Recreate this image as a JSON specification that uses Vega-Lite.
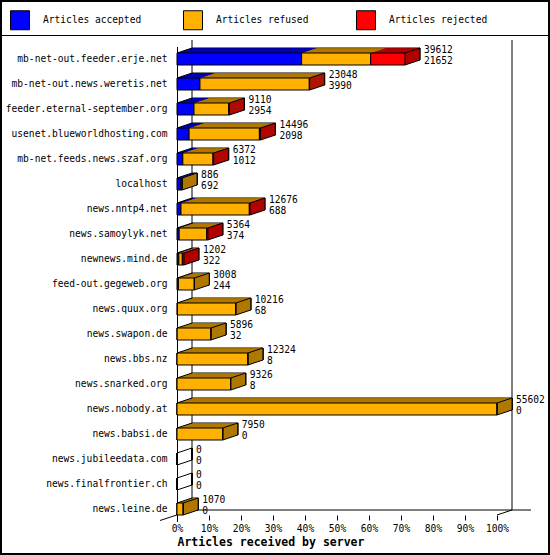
{
  "$schema": "https://vega.github.io/schema/vega-lite/v6.json",
  "width": 550,
  "height": 555,
  "autosize": "none",
  "padding": 0,
  "background": "white",
  "config": {
    "font": "DejaVu Sans Mono",
    "view": {"stroke": "black", "strokeWidth": 4},
    "axis": {
      "labelFont": "DejaVu Sans Mono",
      "labelFontSize": 9.6,
      "labelColor": "black",
      "grid": false,
      "titleFont": "DejaVu Sans Mono",
      "titleColor": "black"
    },
    "legend": {
      "symbolType": "square",
      "symbolSize": 361,
      "symbolStrokeColor": "black",
      "symbolStrokeWidth": 1,
      "labelFont": "DejaVu Sans Mono",
      "labelFontSize": 9.6,
      "labelColor": "black",
      "labelOffset": 13,
      "columnPadding": 39,
      "gridAlign": "all",
      "labelLimit": 300
    }
  },
  "data": {
    "values": [
      {"server": "mb-net-out.feeder.erje.net", "total": 39612, "accepted": 21652, "refused": 12000, "rejected": 5960},
      {"server": "mb-net-out.news.weretis.net", "total": 23048, "accepted": 3990, "refused": 18998, "rejected": 60},
      {"server": "feeder.eternal-september.org", "total": 9110, "accepted": 2954, "refused": 6036, "rejected": 120},
      {"server": "usenet.blueworldhosting.com", "total": 14496, "accepted": 2098, "refused": 12218, "rejected": 180},
      {"server": "mb-net.feeds.news.szaf.org", "total": 6372, "accepted": 1012, "refused": 5240, "rejected": 120},
      {"server": "localhost", "total": 886, "accepted": 692, "refused": 194, "rejected": 0},
      {"server": "news.nntp4.net", "total": 12676, "accepted": 688, "refused": 11878, "rejected": 110},
      {"server": "news.samoylyk.net", "total": 5364, "accepted": 374, "refused": 4790, "rejected": 200},
      {"server": "newnews.mind.de", "total": 1202, "accepted": 322, "refused": 600, "rejected": 280},
      {"server": "feed-out.gegeweb.org", "total": 3008, "accepted": 244, "refused": 2764, "rejected": 0},
      {"server": "news.quux.org", "total": 10216, "accepted": 68, "refused": 10148, "rejected": 0},
      {"server": "news.swapon.de", "total": 5896, "accepted": 32, "refused": 5864, "rejected": 0},
      {"server": "news.bbs.nz", "total": 12324, "accepted": 8, "refused": 12316, "rejected": 0},
      {"server": "news.snarked.org", "total": 9326, "accepted": 8, "refused": 9318, "rejected": 0},
      {"server": "news.nobody.at", "total": 55602, "accepted": 0, "refused": 55602, "rejected": 0},
      {"server": "news.babsi.de", "total": 7950, "accepted": 0, "refused": 7950, "rejected": 0},
      {"server": "news.jubileedata.com", "total": 0, "accepted": 0, "refused": 0, "rejected": 0},
      {"server": "news.finalfrontier.ch", "total": 0, "accepted": 0, "refused": 0, "rejected": 0},
      {"server": "news.leine.de", "total": 1070, "accepted": 0, "refused": 1070, "rejected": 0}
    ]
  },
  "transform": [
    {"fold": ["accepted", "refused", "rejected"]},
    {"calculate": "datum.key", "as": "shade"},
    {"calculate": "datum.rejected > 0 ? 'rejected' : datum.refused > 0 ? 'refused' : 'accepted'", "as": "last"}
  ],
  "encoding": {
    "y": {
      "field": "server",
      "type": "nominal",
      "sort": null,
      "scale": {"range": [46.5, 521.5], "paddingInner": 0, "paddingOuter": 0},
      "axis": {"title": null, "offset": -177, "ticks": false, "labelPadding": 10, "domainColor": "black", "labelLimit": 200}
    }
  },
  "layer": [
    {
      "transform": [{"filter": "datum.key == 'accepted'"}],
      "mark": {"type": "rule", "color": "black", "xOffset": 15, "x2Offset": 15, "yOffset": -19, "y2Offset": 1},
      "encoding": {"x": {"datum": 0, "type": "quantitative"}, "x2": {"datum": 0}, "y2": {"field": "server"}}
    },
    {
      "transform": [{"filter": "datum.key == 'accepted' && datum.server != 'news.leine.de'"}],
      "mark": {"type": "rule", "color": "black", "xOffset": 15, "x2Offset": 15, "yOffset": 1, "y2Offset": 6},
      "encoding": {"x": {"datum": 0, "type": "quantitative"}, "x2": {"datum": 0}, "y2": {"field": "server"}}
    },
    {
      "transform": [{"filter": "datum.key == 'accepted'"}],
      "mark": {"type": "rule", "color": "black", "xOffset": 15, "x2Offset": 15, "yOffset": -19, "y2Offset": 1},
      "encoding": {"x": {"datum": 55602, "type": "quantitative"}, "x2": {"datum": 55602}, "y2": {"field": "server"}}
    },
    {
      "transform": [{"filter": "datum.key == 'accepted' && datum.server != 'news.leine.de'"}],
      "mark": {"type": "rule", "color": "black", "xOffset": 15, "x2Offset": 15, "yOffset": 1, "y2Offset": 6},
      "encoding": {"x": {"datum": 55602, "type": "quantitative"}, "x2": {"datum": 55602}, "y2": {"field": "server"}}
    },
    {
      "transform": [{"filter": "datum.key == 'accepted' && datum.server == 'news.leine.de'"}],
      "mark": {"type": "rule", "color": "black", "xOffset": 15, "x2Offset": 15, "yOffset": 1, "y2Offset": 1},
      "encoding": {"x": {"datum": 0, "type": "quantitative"}, "x2": {"datum": 58900}, "y2": {"field": "server"}}
    },
    {
      "transform": [{"filter": "datum.key == 'accepted' && datum.server == 'news.leine.de'"}],
      "mark": {"type": "rule", "color": "black", "xOffset": -17, "x2Offset": 15, "yOffset": 11.5, "y2Offset": 1},
      "encoding": {"x": {"datum": 0, "type": "quantitative"}, "x2": {"datum": 0}, "y2": {"field": "server"}}
    },
    {
      "transform": [{"filter": "datum.key == 'accepted' && datum.server == 'news.leine.de'"}],
      "mark": {"type": "rule", "color": "black", "x2Offset": 15, "yOffset": 6, "y2Offset": 1},
      "encoding": {"x": {"datum": 55602, "type": "quantitative"}, "x2": {"datum": 55602}, "y2": {"field": "server"}}
    },
    {
      "transform": [{"filter": "datum.key == 'accepted' && datum.server == 'mb-net-out.feeder.erje.net'"}],
      "mark": {"type": "rule", "color": "black", "xOffset": -177, "x2Offset": 53, "yOffset": -23.5, "y2Offset": -23.5},
      "encoding": {"x": {"datum": 0, "type": "quantitative"}, "x2": {"datum": 55602}, "y2": {"field": "server"}}
    },
    {
      "transform": [{"filter": "datum.key == 'accepted'"}],
      "mark": {"type": "rule", "color": "black", "x2Offset": 15, "yOffset": 6, "y2Offset": 1},
      "encoding": {"x": {"datum": 0, "type": "quantitative"}, "x2": {"datum": 0}, "y2": {"field": "server"}}
    },
    {
      "encoding": {
        "x": {
          "field": "value",
          "type": "quantitative",
          "stack": "zero",
          "scale": {"domain": [0, 55602], "range": [177, 497], "nice": false, "zero": true},
          "axis": {
            "title": "Articles received by server",
            "offset": -40,
            "domain": false,
            "tickSize": 5,
            "tickColor": "black",
            "labelPadding": 3,
            "labelFlush": false,
            "labelOverlap": false,
            "values": [0, 5560.2, 11120.4, 16680.6, 22240.8, 27801, 33361.2, 38921.4, 44481.6, 50041.8, 55602],
            "labelExpr": "format(datum.value / 55602, '.0%')",
            "titleFontWeight": "bold",
            "titleFontSize": 11.5,
            "titleAnchor": "start",
            "titlePadding": 4
          }
        }
      },
      "layer": [
        {"mark": {"type": "bar", "height": 12, "xOffset": 15, "x2Offset": 15, "yOffset": -5, "stroke": "black", "strokeWidth": 1},
         "encoding": {"fill": {"field": "shade", "type": "nominal", "legend": null, "scale": {"domain": ["rejected", "refused", "accepted"], "range": ["#b00000", "#b07800", "#0000b0"]}}}},
        {"transform": [{"filter": "datum.key == 'accepted' && datum.total > 0"}],
         "mark": {"type": "bar", "height": 12, "xOffset": 14, "x2Offset": 15, "yOffset": -5},
         "encoding": {"x": {"field": "total", "type": "quantitative", "stack": null}, "x2": {"field": "total"}, "fill": {"field": "last", "type": "nominal", "legend": null}}},
        {"mark": {"type": "bar", "height": 12, "xOffset": 14, "x2Offset": 14, "yOffset": -4.667},
         "encoding": {"fill": {"field": "shade", "type": "nominal", "legend": null}}},
        {"transform": [{"filter": "datum.key == 'accepted' && datum.total > 0"}],
         "mark": {"type": "bar", "height": 12, "xOffset": 13, "x2Offset": 14, "yOffset": -4.667},
         "encoding": {"x": {"field": "total", "type": "quantitative", "stack": null}, "x2": {"field": "total"}, "fill": {"field": "last", "type": "nominal", "legend": null}}},
        {"mark": {"type": "bar", "height": 12, "xOffset": 13, "x2Offset": 13, "yOffset": -4.333},
         "encoding": {"fill": {"field": "shade", "type": "nominal", "legend": null}}},
        {"transform": [{"filter": "datum.key == 'accepted' && datum.total > 0"}],
         "mark": {"type": "bar", "height": 12, "xOffset": 12, "x2Offset": 13, "yOffset": -4.333},
         "encoding": {"x": {"field": "total", "type": "quantitative", "stack": null}, "x2": {"field": "total"}, "fill": {"field": "last", "type": "nominal", "legend": null}}},
        {"mark": {"type": "bar", "height": 12, "xOffset": 12, "x2Offset": 12, "yOffset": -4},
         "encoding": {"fill": {"field": "shade", "type": "nominal", "legend": null}}},
        {"transform": [{"filter": "datum.key == 'accepted' && datum.total > 0"}],
         "mark": {"type": "bar", "height": 12, "xOffset": 11, "x2Offset": 12, "yOffset": -4},
         "encoding": {"x": {"field": "total", "type": "quantitative", "stack": null}, "x2": {"field": "total"}, "fill": {"field": "last", "type": "nominal", "legend": null}}},
        {"mark": {"type": "bar", "height": 12, "xOffset": 11, "x2Offset": 11, "yOffset": -3.667},
         "encoding": {"fill": {"field": "shade", "type": "nominal", "legend": null}}},
        {"transform": [{"filter": "datum.key == 'accepted' && datum.total > 0"}],
         "mark": {"type": "bar", "height": 12, "xOffset": 10, "x2Offset": 11, "yOffset": -3.667},
         "encoding": {"x": {"field": "total", "type": "quantitative", "stack": null}, "x2": {"field": "total"}, "fill": {"field": "last", "type": "nominal", "legend": null}}},
        {"mark": {"type": "bar", "height": 12, "xOffset": 10, "x2Offset": 10, "yOffset": -3.333},
         "encoding": {"fill": {"field": "shade", "type": "nominal", "legend": null}}},
        {"transform": [{"filter": "datum.key == 'accepted' && datum.total > 0"}],
         "mark": {"type": "bar", "height": 12, "xOffset": 9, "x2Offset": 10, "yOffset": -3.333},
         "encoding": {"x": {"field": "total", "type": "quantitative", "stack": null}, "x2": {"field": "total"}, "fill": {"field": "last", "type": "nominal", "legend": null}}},
        {"mark": {"type": "bar", "height": 12, "xOffset": 9, "x2Offset": 9, "yOffset": -3},
         "encoding": {"fill": {"field": "shade", "type": "nominal", "legend": null}}},
        {"transform": [{"filter": "datum.key == 'accepted' && datum.total > 0"}],
         "mark": {"type": "bar", "height": 12, "xOffset": 8, "x2Offset": 9, "yOffset": -3},
         "encoding": {"x": {"field": "total", "type": "quantitative", "stack": null}, "x2": {"field": "total"}, "fill": {"field": "last", "type": "nominal", "legend": null}}},
        {"mark": {"type": "bar", "height": 12, "xOffset": 8, "x2Offset": 8, "yOffset": -2.667},
         "encoding": {"fill": {"field": "shade", "type": "nominal", "legend": null}}},
        {"transform": [{"filter": "datum.key == 'accepted' && datum.total > 0"}],
         "mark": {"type": "bar", "height": 12, "xOffset": 7, "x2Offset": 8, "yOffset": -2.667},
         "encoding": {"x": {"field": "total", "type": "quantitative", "stack": null}, "x2": {"field": "total"}, "fill": {"field": "last", "type": "nominal", "legend": null}}},
        {"mark": {"type": "bar", "height": 12, "xOffset": 7, "x2Offset": 7, "yOffset": -2.333},
         "encoding": {"fill": {"field": "shade", "type": "nominal", "legend": null}}},
        {"transform": [{"filter": "datum.key == 'accepted' && datum.total > 0"}],
         "mark": {"type": "bar", "height": 12, "xOffset": 6, "x2Offset": 7, "yOffset": -2.333},
         "encoding": {"x": {"field": "total", "type": "quantitative", "stack": null}, "x2": {"field": "total"}, "fill": {"field": "last", "type": "nominal", "legend": null}}},
        {"mark": {"type": "bar", "height": 12, "xOffset": 6, "x2Offset": 6, "yOffset": -2},
         "encoding": {"fill": {"field": "shade", "type": "nominal", "legend": null}}},
        {"transform": [{"filter": "datum.key == 'accepted' && datum.total > 0"}],
         "mark": {"type": "bar", "height": 12, "xOffset": 5, "x2Offset": 6, "yOffset": -2},
         "encoding": {"x": {"field": "total", "type": "quantitative", "stack": null}, "x2": {"field": "total"}, "fill": {"field": "last", "type": "nominal", "legend": null}}},
        {"mark": {"type": "bar", "height": 12, "xOffset": 5, "x2Offset": 5, "yOffset": -1.667},
         "encoding": {"fill": {"field": "shade", "type": "nominal", "legend": null}}},
        {"transform": [{"filter": "datum.key == 'accepted' && datum.total > 0"}],
         "mark": {"type": "bar", "height": 12, "xOffset": 4, "x2Offset": 5, "yOffset": -1.667},
         "encoding": {"x": {"field": "total", "type": "quantitative", "stack": null}, "x2": {"field": "total"}, "fill": {"field": "last", "type": "nominal", "legend": null}}},
        {"mark": {"type": "bar", "height": 12, "xOffset": 4, "x2Offset": 4, "yOffset": -1.333},
         "encoding": {"fill": {"field": "shade", "type": "nominal", "legend": null}}},
        {"transform": [{"filter": "datum.key == 'accepted' && datum.total > 0"}],
         "mark": {"type": "bar", "height": 12, "xOffset": 3, "x2Offset": 4, "yOffset": -1.333},
         "encoding": {"x": {"field": "total", "type": "quantitative", "stack": null}, "x2": {"field": "total"}, "fill": {"field": "last", "type": "nominal", "legend": null}}},
        {"mark": {"type": "bar", "height": 12, "xOffset": 3, "x2Offset": 3, "yOffset": -1},
         "encoding": {"fill": {"field": "shade", "type": "nominal", "legend": null}}},
        {"transform": [{"filter": "datum.key == 'accepted' && datum.total > 0"}],
         "mark": {"type": "bar", "height": 12, "xOffset": 2, "x2Offset": 3, "yOffset": -1},
         "encoding": {"x": {"field": "total", "type": "quantitative", "stack": null}, "x2": {"field": "total"}, "fill": {"field": "last", "type": "nominal", "legend": null}}},
        {"mark": {"type": "bar", "height": 12, "xOffset": 2, "x2Offset": 2, "yOffset": -0.667},
         "encoding": {"fill": {"field": "shade", "type": "nominal", "legend": null}}},
        {"transform": [{"filter": "datum.key == 'accepted' && datum.total > 0"}],
         "mark": {"type": "bar", "height": 12, "xOffset": 1, "x2Offset": 2, "yOffset": -0.667},
         "encoding": {"x": {"field": "total", "type": "quantitative", "stack": null}, "x2": {"field": "total"}, "fill": {"field": "last", "type": "nominal", "legend": null}}},
        {"mark": {"type": "bar", "height": 12, "xOffset": 1, "x2Offset": 1, "yOffset": -0.333},
         "encoding": {"fill": {"field": "shade", "type": "nominal", "legend": null}}},
        {"transform": [{"filter": "datum.key == 'accepted' && datum.total > 0"}],
         "mark": {"type": "bar", "height": 12, "xOffset": 0, "x2Offset": 1, "yOffset": -0.333},
         "encoding": {"x": {"field": "total", "type": "quantitative", "stack": null}, "x2": {"field": "total"}, "fill": {"field": "last", "type": "nominal", "legend": null}}},
        {"mark": {"type": "bar", "height": 12, "stroke": "black", "strokeWidth": 1},
         "encoding": {"color": {"field": "key", "type": "nominal", "scale": {"domain": ["accepted", "refused", "rejected"], "range": ["#0000ff", "#ffb000", "#ff0000"]}, "legend": {"title": null, "orient": "none", "legendX": 10, "legendY": 10, "direction": "horizontal", "labelExpr": "'Articles ' + datum.label"}}}}
      ]
    },
    {
      "transform": [{"filter": "datum.key == 'accepted'"}],
      "mark": {"type": "rule", "color": "black", "x2Offset": 15, "yOffset": -6, "y2Offset": -11},
      "encoding": {"x": {"datum": 0, "type": "quantitative"}, "x2": {"datum": 0}, "y2": {"field": "server"}}
    },
    {
      "transform": [{"filter": "datum.key == 'accepted' && datum.total > 0"}],
      "mark": {"type": "rule", "color": "black", "x2Offset": 15, "yOffset": -6, "y2Offset": -11},
      "encoding": {"x": {"field": "total", "type": "quantitative"}, "x2": {"field": "total"}, "y2": {"field": "server"}}
    },
    {
      "transform": [{"filter": "datum.key == 'accepted' && datum.total > 0"}],
      "mark": {"type": "rule", "color": "black", "x2Offset": 15, "yOffset": 6, "y2Offset": 1},
      "encoding": {"x": {"field": "total", "type": "quantitative"}, "x2": {"field": "total"}, "y2": {"field": "server"}}
    },
    {
      "transform": [{"filter": "datum.key == 'accepted' && datum.total > 0"}],
      "mark": {"type": "rule", "color": "black", "xOffset": 15, "x2Offset": 15, "yOffset": -11, "y2Offset": 1},
      "encoding": {"x": {"field": "total", "type": "quantitative"}, "x2": {"field": "total"}, "y2": {"field": "server"}}
    },
    {
      "transform": [{"filter": "datum.key == 'accepted'"}],
      "mark": {"type": "text", "align": "left", "baseline": "middle", "dx": 19, "dy": -9, "fontSize": 9.6, "font": "DejaVu Sans Mono", "color": "black"},
      "encoding": {"x": {"field": "total", "type": "quantitative"}, "text": {"field": "total", "type": "quantitative", "format": "d"}}
    },
    {
      "transform": [{"filter": "datum.key == 'accepted'"}],
      "mark": {"type": "text", "align": "left", "baseline": "middle", "dx": 19, "dy": 2, "fontSize": 9.6, "font": "DejaVu Sans Mono", "color": "black"},
      "encoding": {"x": {"field": "total", "type": "quantitative"}, "text": {"field": "accepted", "type": "quantitative", "format": "d"}}
    }
  ]
}
